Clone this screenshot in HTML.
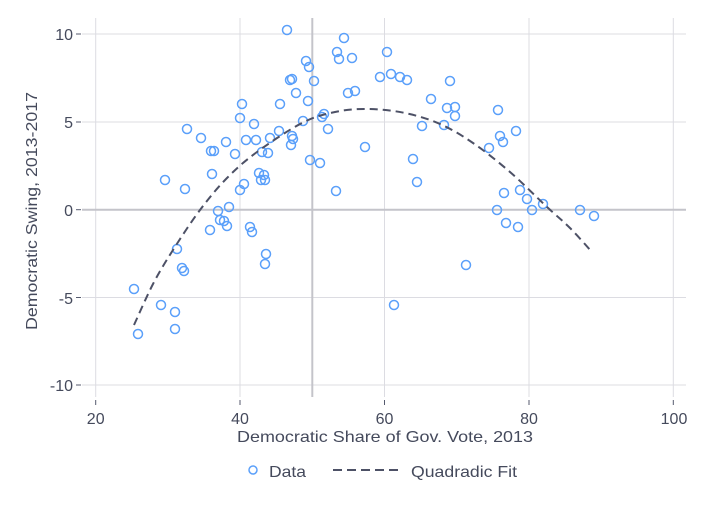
<!DOCTYPE html>
<html><head><meta charset="utf-8"><style>
html,body{margin:0;padding:0;background:#fff;}
svg{display:block;font-family:"Liberation Sans",Arial,sans-serif;}
</style></head><body>
<svg id="s" width="704" height="512" viewBox="0 0 704 512" xmlns="http://www.w3.org/2000/svg">
<g stroke="#dcdce2" stroke-width="1">
<line x1="95.7" y1="18" x2="95.7" y2="397"/>
<line x1="240" y1="18" x2="240" y2="397"/>
<line x1="384.5" y1="18" x2="384.5" y2="397"/>
<line x1="529" y1="18" x2="529" y2="397"/>
<line x1="673.3" y1="18" x2="673.3" y2="397"/>
<line x1="82" y1="34" x2="686" y2="34"/>
<line x1="82" y1="122" x2="686" y2="122"/>
<line x1="82" y1="297.5" x2="686" y2="297.5"/>
<line x1="82" y1="385" x2="686" y2="385"/>
</g>
<g stroke="#c4c4ca" stroke-width="2">
<line x1="312.3" y1="18" x2="312.3" y2="397"/>
<line x1="82" y1="209.7" x2="686" y2="209.7"/>
</g>
<g stroke="#555a6e" stroke-width="1">
<line x1="76" y1="34" x2="81" y2="34"/><line x1="76" y1="122" x2="81" y2="122"/><line x1="76" y1="209.7" x2="81" y2="209.7"/><line x1="76" y1="297.5" x2="81" y2="297.5"/><line x1="76" y1="385" x2="81" y2="385"/>
<line x1="95.7" y1="400" x2="95.7" y2="405"/><line x1="240" y1="400" x2="240" y2="405"/><line x1="384.5" y1="400" x2="384.5" y2="405"/><line x1="529" y1="400" x2="529" y2="405"/><line x1="673.3" y1="400" x2="673.3" y2="405"/>
</g>
<g fill="#454a5c" font-size="16" text-anchor="end">
<text x="73" y="40">10</text><text x="73" y="128">5</text><text x="73" y="216">0</text><text x="73" y="304">-5</text><text x="73" y="391">-10</text>
</g>
<g fill="#454a5c" font-size="16" text-anchor="middle">
<text x="95.7" y="424">20</text><text x="240" y="424">40</text><text x="384.5" y="424">60</text><text x="529" y="424">80</text><text x="674" y="424">100</text>
</g>
<g fill="#454a5c" font-size="16">
<text x="237" y="442" textLength="296" lengthAdjust="spacingAndGlyphs">Democratic Share of Gov. Vote, 2013</text>
<text transform="translate(37,330) rotate(-90)" textLength="238" lengthAdjust="spacingAndGlyphs">Democratic Swing, 2013-2017</text>
</g>
<g id="pts" fill="none" stroke="#5ba0fa" stroke-width="1.5"></g>
<path id="fit" fill="none" stroke="#4d5166" stroke-width="2" stroke-dasharray="8,5"/>
<circle cx="253" cy="470" r="4" fill="none" stroke="#5ba0fa" stroke-width="1.5"/>
<text x="269" y="477" fill="#454a5c" font-size="16" textLength="37" lengthAdjust="spacingAndGlyphs">Data</text>
<line x1="333" y1="470" x2="398" y2="470" stroke="#4d5166" stroke-width="2" stroke-dasharray="9,5"/>
<text x="411" y="477" fill="#454a5c" font-size="16" textLength="106" lengthAdjust="spacingAndGlyphs">Quadradic Fit</text>
</svg>
<script>
var P=[[134,289],[138,334],[161,305],[175,312],[175,329],[177,249],[182,268],[184,271],[165,180],[185,189],[187,129],[201,138],[211,151],[214,151],[212,174],[210,230],[218,211],[220,220],[224,221],[226,142],[229,207],[227,226],[235,154],[240,118],[242,104],[246,140],[240,190],[244,184],[250,227],[252,232],[254,124],[256,140],[259,173],[261,180],[264,175],[262,152],[265,180],[266,254],[265,264],[268,153],[270,138],[279,131],[280,104],[287,30],[290,80],[292,79],[291,145],[292,136],[293,139],[296,93],[303,121],[306,61],[308,101],[309,67],[310,160],[314,81],[320,163],[322,117],[324,114],[328,129],[336,191],[337,52],[339,59],[344,38],[348,93],[352,58],[355,91],[365,147],[380,77],[387,52],[391,74],[394,305],[400,77],[407,80],[413,159],[417,182],[422,126],[431,99],[444,125],[447,108],[450,81],[455,107],[455,116],[466,265],[489,148],[497,210],[498,110],[500,136],[503,142],[504,193],[506,223],[516,131],[518,227],[520,190],[527,199],[532,210],[543,204],[580,210],[594,216]];
var g=document.getElementById('pts'),h='';
P.forEach(function(p){h+='<circle cx="'+p[0]+'" cy="'+p[1]+'" r="4.5"/>';});
g.innerHTML=h;
var C=[[134,325],[153,284],[173,250],[200,210],[227,178],[257,152],[302,123],[335,112],[368,109],[405,113],[440,124],[473,143],[510,172],[547,207],[570,228],[592,252]];
var d='M'+C[0][0]+','+C[0][1];
for(var i=0;i<C.length-1;i++){var p0=C[Math.max(i-1,0)],p1=C[i],p2=C[i+1],p3=C[Math.min(i+2,C.length-1)];
d+=' C'+(p1[0]+(p2[0]-p0[0])/6)+','+(p1[1]+(p2[1]-p0[1])/6)+' '+(p2[0]-(p3[0]-p1[0])/6)+','+(p2[1]-(p3[1]-p1[1])/6)+' '+p2[0]+','+p2[1];}
document.getElementById('fit').setAttribute('d',d);
</script>
</body></html>
